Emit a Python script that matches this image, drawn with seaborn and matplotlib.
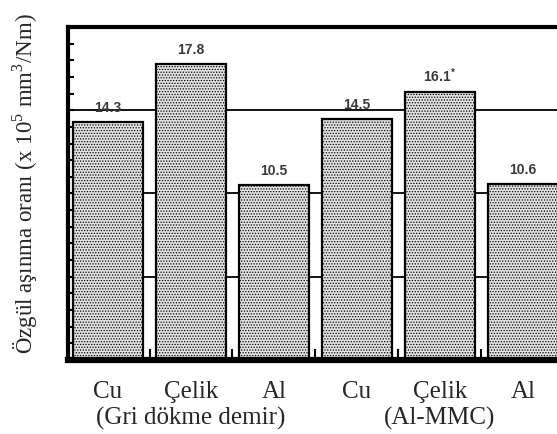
import matplotlib
matplotlib.use("Agg")
import matplotlib.pyplot as plt
import matplotlib.transforms as mtransforms
import seaborn as sns
import pandas as pd

# Data
keys = ["Cu_g", "Celik_g", "Al_g", "Cu_m", "Celik_m", "Al_m"]
tick_labels = ["Cu", "Çelik", "Al", "Cu", "Çelik", "Al"]
values = [14.3, 17.8, 10.5, 14.5, 16.1, 10.6]
value_labels = ["14.3", "17.8", "10.5", "14.5", "16.1$^{\\mathbf{*}}$", "10.6"]
group_labels = ["(Gri dökme demir)", "(Al-MMC)"]
group_centers = [1, 4]
grid_values = [5, 10, 15]

sns.set_style("white")
plt.rcParams["mathtext.fontset"] = "custom"
plt.rcParams["mathtext.rm"] = "Liberation Serif"
plt.rcParams["mathtext.bf"] = "Liberation Sans:bold"
plt.rcParams["hatch.color"] = "#707070"
plt.rcParams["hatch.linewidth"] = 0.6

df = pd.DataFrame({"key": keys, "val": values})

fig = plt.figure(figsize=(5.57, 4.34), dpi=100)
ax_bottom, ax_top = 360, 27
ax = fig.add_axes([68 / 557, 1 - ax_bottom / 434, 1 - 68 / 557,
                   (ax_bottom - ax_top) / 434])

for g in grid_values:
    ax.axhline(g, color="black", lw=1.3, zorder=0)

sns.barplot(data=df, x="key", y="val", color="#e2e2e2", edgecolor="black",
            linewidth=1.6, width=0.84, ax=ax, zorder=2)
for p in ax.patches:
    p.set_hatch("......")

ax.bar_label(ax.containers[0], labels=value_labels, padding=5,
             fontsize=10, color="#3a3a3a", family="Liberation Sans",
             fontweight="bold")

ax.set_xlim(-0.482, 5.41)
ax.set_ylim(0, 20.0)

ax.set_xticks(range(len(keys)))
ax.set_xticklabels(tick_labels, family="Liberation Serif", fontsize=18)
ax.tick_params(axis="x", which="major", length=0, pad=15)
ax.set_xticks([i + 0.5 for i in range(len(keys) - 1)], minor=True)
ax.tick_params(axis="x", which="minor", direction="in", length=8, width=1.5,
               bottom=True, color="black")

ax.set_yticks(range(0, 21))
ax.set_yticklabels([])
ax.tick_params(axis="y", which="major", direction="in", length=4, width=1.5,
               left=True, color="black")

trans = mtransforms.blended_transform_factory(ax.transData, fig.transFigure)
for c, lab in zip(group_centers, group_labels):
    ax.text(c, 1 - 425 / 434, lab, transform=trans, ha="center",
            va="baseline", family="Liberation Serif", fontsize=18)

ax.set_xlabel("")
ax.set_ylabel("Özgül aşınma oranı (x 10$^5$ mm$^3$/Nm)",
              family="Liberation Serif", fontsize=16.5)
ax.yaxis.set_label_coords(-0.058, 0.53)

for side in ["left", "top", "bottom"]:
    ax.spines[side].set_visible(True)
    ax.spines[side].set_color("black")
ax.spines["left"].set_linewidth(3)
ax.spines["top"].set_linewidth(3)
ax.spines["bottom"].set_linewidth(4.5)
ax.spines["right"].set_visible(False)

fig.savefig("out.png", dpi=100)
